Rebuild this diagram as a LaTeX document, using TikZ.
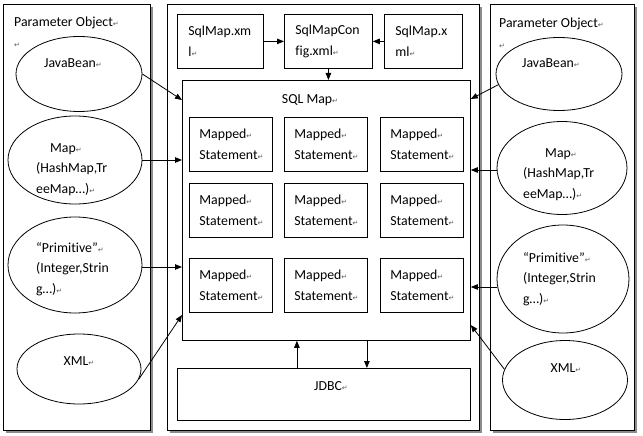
\documentclass[tikz,border=0pt]{standalone}
\usepackage{fontspec}
\setmainfont{Carlito}[Ligatures=NoCommon]
\newfontfamily\markfont{DejaVu Sans}
\usetikzlibrary{arrows.meta,shapes.geometric,shadows}
\newcommand\retmark{{\markfont\fontsize{7}{7}\selectfont\textcolor{black!65}{↵}}}
\newcommand\stacked[1]{\begin{tabular}[t]{@{}l@{}}#1\end{tabular}}

\begin{document}
\begin{tikzpicture}[x=1pt,y=-1pt,
    font=\fontsize{13.8}{20.5}\selectfont,
    panel/.style={draw,fill=white,line width=0.9pt,anchor=north west,inner sep=0pt,
      general shadow={shadow xshift=2.5pt,shadow yshift=-2.5pt,fill=black!45}},
    pobj/.style={draw,ellipse,fill=white,line width=0.8pt,inner sep=0pt},
    txt/.style={anchor=base west,inner sep=0pt},
    filebox/.style={draw,anchor=north west,line width=0.8pt,minimum height=54,inner xsep=11pt,align=left},
    stmt/.style={draw,anchor=north west,line width=0.8pt,minimum width=83,minimum height=54,
      text width=63pt,inner xsep=10pt,align=left},
    arr/.style={-{Triangle[length=7pt,width=5.5pt]},line width=0.8pt}]
  \useasboundingbox (0,0) rectangle (643,436);

  % the three panels
  \node[panel,minimum width=147,minimum height=426] (leftpanel) at (3,4) {};
  \node[panel,minimum width=312,minimum height=426] (midpanel) at (167,4) {};
  \node[panel,minimum width=144,minimum height=426] (rightpanel) at (490,4) {};

  \node[txt] (ltitle) at (14,27) {\stacked{Parameter Object\retmark\\\retmark}};
  \node[txt] (rtitle) at (499,28) {\stacked{Parameter Object\retmark\\\retmark}};

  % parameter objects, left
  \node[pobj,minimum width=126,minimum height=75] (beanL) at (79,74) {};
  \node[txt] at (44,68) {JavaBean\retmark};
  \node[pobj,minimum width=134,minimum height=88] (mapL) at (75,160) {};
  \node[txt] at (36,152) {\stacked{\hspace{14pt}Map\retmark\\(HashMap,Tr\\eeMap…)\retmark}};
  \node[pobj,minimum width=134,minimum height=96] (primL) at (75,265) {};
  \node[txt] at (36,252) {\stacked{“Primitive”\retmark\\(Integer,Strin\\g…)\retmark}};
  \node[pobj,minimum width=124,minimum height=70] (xmlL) at (79,369) {};
  \node[txt,anchor=base] at (79,365) {XML\retmark};

  % parameter objects, right
  \node[pobj,minimum width=126,minimum height=73] (beanR) at (559,74) {};
  \node[txt] at (522,68) {JavaBean\retmark};
  \node[pobj,minimum width=130,minimum height=93] (mapR) at (562,168) {};
  \node[txt] at (523,157) {\stacked{\hspace{22pt}Map\retmark\\(HashMap,Tr\\eeMap…)\retmark}};
  \node[pobj,minimum width=132,minimum height=108] (primR) at (563,279) {};
  \node[txt] at (523,262) {\stacked{“Primitive”\retmark\\(Integer,Strin\\g…)\retmark}};
  \node[pobj,minimum width=125,minimum height=79] (xmlR) at (565,380) {};
  \node[txt,anchor=base] at (566,372) {XML\retmark};

  % config files
  \node[filebox,minimum width=86,text width=64pt] (mapxmlA) at (177,14) {SqlMap.xm\\l\retmark};
  \node[filebox,minimum width=88,text width=66pt] (mapcfg) at (284,14) {SqlMapCon\\fig.xml\retmark};
  \node[filebox,minimum width=78,text width=56pt] (mapxmlB) at (384,14) {SqlMap.x\\ml\retmark};

  % sql map and its statements
  \node[draw,anchor=north west,line width=0.8pt,minimum width=288,minimum height=260,inner sep=0pt] (sqlmap) at (182,80) {};
  \node[txt,anchor=base] at (310,103) {SQL Map\retmark};
  \foreach \r/\y in {1/117,2/183,3/258}
    \foreach \c/\x in {1/189,2/284,3/380}
      \node[stmt] (stmt\r\c) at (\x,\y) {Mapped\retmark\\Statement\retmark};

  \node[draw,anchor=north west,line width=0.8pt,minimum width=293,minimum height=52,inner sep=0pt] (jdbc) at (177,368) {};
  \node[txt,anchor=base] at (331,390) {JDBC\retmark};

  \draw[arr] (mapxmlA) -- (mapcfg);
  \draw[arr] (mapxmlB) -- (mapcfg);
  \draw[arr] (mapcfg) -- (mapcfg |- sqlmap.north);

  \draw[arr] (beanL.east) -- ([yshift=-20pt]sqlmap.north west);
  \draw[arr] (mapL.east) -- (mapL.east -| sqlmap.west);
  \draw[arr] ([yshift=-2pt]primL.east) -- ([yshift=-2pt]primL.east -| sqlmap.west);
  \draw[arr] (xmlL.-10) -- ([yshift=-235pt]sqlmap.north west);

  \draw[arr] (beanR.190) -- ([yshift=-19pt]sqlmap.north east);
  \draw[arr] ([yshift=-2pt]mapR.west) -- ([yshift=-2pt]mapR.west -| sqlmap.east);
  \draw[arr] ([yshift=-8pt]primR.west) -- ([yshift=-8pt]primR.west -| sqlmap.east);
  \draw[arr] (xmlR.170) -- ([yshift=-245pt]sqlmap.north east);

  \draw[arr] ([xshift=-27pt]jdbc.north) -- ([xshift=-27pt]jdbc.north |- sqlmap.south);
  \draw[arr] ([xshift=43pt]jdbc.north |- sqlmap.south) -- ([xshift=43pt]jdbc.north);
\end{tikzpicture}
\end{document}
